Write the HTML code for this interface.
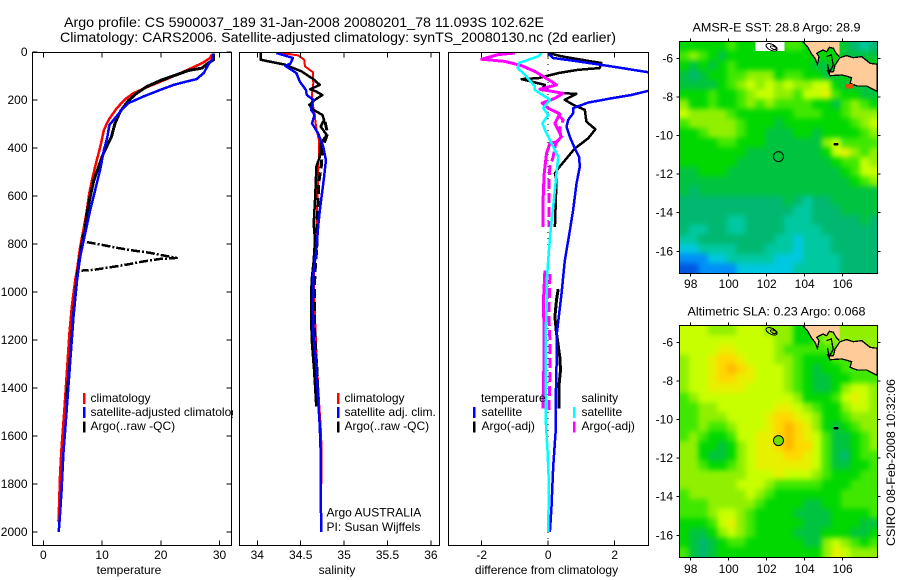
<!DOCTYPE html>
<html>
<head>
<meta charset="utf-8">
<title>Argo profile</title>
<style>
html,body{margin:0;padding:0;background:#fff;}
svg{display:block;}
text{font-family:"Liberation Sans",sans-serif;font-size:12px;fill:#000;}
.title{font-size:14px;}
</style>
</head>
<body>
<svg id="fig" xmlns="http://www.w3.org/2000/svg" width="900" height="580" viewBox="0 0 900 580">
  <defs>
    <clipPath id="clip1"><rect x="32" y="52" width="200" height="494"/></clipPath>
    <clipPath id="clip2"><rect x="239" y="52" width="201" height="494"/></clipPath>
    <clipPath id="clip3"><rect x="448" y="52" width="201" height="494"/></clipPath>
    <clipPath id="clipM1"><rect x="679.5" y="41.5" width="198" height="232"/></clipPath>
    <clipPath id="clipM2"><rect x="679.5" y="325.5" width="198" height="232"/></clipPath>
    <filter id="soften" filterUnits="userSpaceOnUse" x="650" y="10" width="250" height="570" color-interpolation-filters="sRGB">
      <feGaussianBlur stdDeviation="2.6"/>
    </filter>
  </defs>
  <rect x="0" y="0" width="900" height="580" fill="#fff"/>
  <text class="title" x="64" y="27" textLength="480" lengthAdjust="spacingAndGlyphs">Argo profile: CS 5900037_189 31-Jan-2008 20080201_78 11.093S 102.62E</text>
  <text class="title" x="60" y="42" textLength="556" lengthAdjust="spacingAndGlyphs">Climatology: CARS2006. Satellite-adjusted climatology: synTS_20080130.nc (2d earlier)</text>

  <g id="p1"></g>
  <text x="90.5" y="402">climatology</text>
  <text x="90.5" y="416">satellite-adjusted climatology</text>
  <text x="90.5" y="430">Argo(..raw -QC)</text>
  <rect x="83" y="393" width="2.5" height="11" fill="#f00"/>
  <rect x="83" y="407" width="2.5" height="11" fill="#00f"/>
  <rect x="83" y="421.5" width="2.5" height="11" fill="#000"/>
  <text x="129" y="574" text-anchor="middle">temperature</text>

  <rect x="233" y="52" width="207" height="494" fill="#fff"/>
  <g id="p2"></g>
  <rect x="337" y="393" width="2.5" height="11" fill="#f00"/>
  <rect x="337" y="407" width="2.5" height="11" fill="#00f"/>
  <rect x="337" y="421.5" width="2.5" height="11" fill="#000"/>
  <text x="344.5" y="402">climatology</text>
  <text x="344.5" y="416">satellite adj. clim.</text>
  <text x="344.5" y="430">Argo(..raw -QC)</text>
  <text x="326.5" y="516.5">Argo AUSTRALIA</text>
  <text x="326.5" y="531">PI: Susan Wijffels</text>
  <text x="337" y="574" text-anchor="middle">salinity</text>

  <g id="p3"></g>
  <text x="481" y="402">temperature</text>
  <text x="481.5" y="416">satellite</text>
  <text x="481.5" y="430">Argo(-adj)</text>
  <text x="581.5" y="402">salinity</text>
  <text x="581.5" y="416">satellite</text>
  <text x="581.5" y="430">Argo(-adj)</text>
  <rect x="473" y="407" width="2.5" height="11" fill="#00f"/>
  <rect x="473" y="421.5" width="2.5" height="11" fill="#000"/>
  <rect x="573" y="407" width="2.5" height="11" fill="#0ff"/>
  <rect x="573" y="421.5" width="2.5" height="11" fill="#f0f"/>
  <text x="546.5" y="574" text-anchor="middle">difference from climatology</text>

  <text x="692.5" y="31.5" textLength="168" lengthAdjust="spacingAndGlyphs">AMSR-E SST: 28.8 Argo: 28.9</text>
  <g id="m1"></g>
  <text x="687.5" y="315.5" textLength="178" lengthAdjust="spacingAndGlyphs">Altimetric SLA: 0.23 Argo: 0.068</text>
  <g id="m2"></g>
  <text transform="translate(895,546) rotate(-90)" textLength="167" lengthAdjust="spacingAndGlyphs">CSIRO 08-Feb-2008 10:32:06</text>
</svg>
<script>
// ---- shared tick labels
const depthTicks = [0,200,400,600,800,1000,1200,1400,1600,1800,2000];
const tempTicks = [0,10,20,30];
const salTickValues = [34,34.5,35,35.5,36];
const salTickLabels = ['34','34.5','35','35.5','36'];
const diffTicks = [-2,0,2];
const lonTicks = [98,100,102,104,106];
const latTicks = [-6,-8,-10,-12,-14,-16];

// ---- temperature panel
const climTempDepth = [11,25,43,63,85,113,141,172,197,234,283,325,395,450,520,590,674,744,813,897,953,1061,1172,1339,1506,1644,1756,1936,1957];
const climTempValue = [28.7,28.4,27.3,25.6,23.6,21.0,18.2,15.3,13.9,12.5,11.1,10.3,9.7,9.1,8.4,7.8,7.3,6.8,6.25,5.8,5.4,4.83,4.43,3.98,3.52,3.1,2.84,2.6,2.55];
const satTempDepth = [7,32,53,88,113,123,137,158,186,213,241,276,304,353,409,492,576,660,757,855,981,1103,1256,1394,1547,1672,1825,1922,2000];
const satTempValue = [28.9,28.7,28.1,27.3,26.1,24.4,22.2,19.9,17.0,14.5,13.35,12.2,11.25,10.9,10.3,9.66,8.8,7.95,7.1,6.25,5.57,5.1,4.66,4.26,3.8,3.4,3.1,2.84,2.6];
const argoTempDepth = [7,32,46,67,77,99,116,144,172,202,248,297,353,423,492,534,604,674,744,764,925,1100,1300,1463];
const argoTempValue = [29,29,28.1,27,24.7,22.2,20.2,17.6,15.9,14.5,13.1,12.2,11.6,10.2,9.2,8.6,7.95,7.4,7.1,6.8,5.8,5.1,4.5,3.9];
const argoSpikeDepth = [792,802,816,827,837,848,858,862,873,886,897,908,911];
const argoSpikeValue = [7.4,9.66,12.5,15.3,18.2,20.5,22.7,19.9,17,14.2,11.4,8.5,6.5];

// ---- salinity panel
const climSalDepth = [4,14,32,60,84,130,172,199,262,318,367,437,506,604,730,841,953,1061,1242,1450,1561,1644,1800];
const climSalValue = [34.28,34.47,34.54,34.55,34.64,34.645,34.63,34.63,34.66,34.68,34.71,34.71,34.70,34.695,34.68,34.66,34.65,34.66,34.68,34.71,34.73,34.74,34.74];
const satSalDepth = [4,25,49,57,88,123,158,179,199,241,262,297,339,395,451,520,576,660,730,827,925,1064,1172,1311,1450,1561,1672,2000];
const satSalValue = [34.22,34.41,34.38,34.32,34.45,34.49,34.56,34.57,34.645,34.62,34.66,34.63,34.70,34.76,34.79,34.77,34.75,34.72,34.70,34.68,34.645,34.64,34.645,34.68,34.70,34.72,34.73,34.735];
const argoSalDepth = [4,32,39,53,81,113,137,155,165,179,199,220,241,262,283,311,346,381,437,478,534,618,716,785,869,953,1064,1116,1214,1332,1477];
const argoSalValue = [34.04,34.04,34.13,34.32,34.51,34.645,34.72,34.61,34.68,34.75,34.665,34.6,34.645,34.75,34.77,34.73,34.8,34.73,34.72,34.68,34.675,34.665,34.65,34.665,34.65,34.625,34.62,34.62,34.63,34.655,34.68];
const argoSalDashDepth = [290,340,400,470,540,620,720,800,880,960,1070,1150,1240,1340,1470];
const argoSalDashValue = [34.78,34.81,34.75,34.74,34.71,34.70,34.69,34.69,34.67,34.66,34.66,34.66,34.67,34.69,34.70];

// ---- difference panel
const diffSatTempDepth = [4,25,39,60,84,100,145,162,179,193,211,234,255,283,311,353,395,437,478,548,660,771,869,1008,1103,1186,1311,1492,1589,1728,1894,2000];
const diffSatTempValue = [0,0.15,0.9,1.9,3.0,4,4,3.0,2.5,1.9,1.2,0.75,0.75,0.6,0.55,0.65,0.78,0.93,0.95,0.85,0.75,0.62,0.5,0.4,0.32,0.25,0.25,0.22,0.22,0.15,0.1,0.05];
const diffArgoTempDepth = [4,18,39,46,67,74,88,109,113,137,158,172,174,199,220,241,290,322,360,402,485,506,534,730];
const diffArgoTempValue = [0,0.4,1.3,1.6,1.55,0.9,0.3,-0.3,-0.8,-0.1,-0.2,0.5,0.85,0.5,0.75,1.1,1.15,1.42,1.2,0.8,0.3,0.2,0.25,0.2];
const diffArgoTempDeepDepth = [988,1033,1103,1172,1270,1325,1381,1485];
const diffArgoTempDeepValue = [0.3,0.25,0.2,0.25,0.35,0.37,0.33,0.33];
const diffSatSalDepth = [4,18,46,67,95,144,158,199,234,262,297,325,381,437,506,604,730,827,967,1078,1172,1311,1547,1658,1797,2000];
const diffSatSalValue = [-0.2,-0.3,-0.88,-0.92,-0.7,-0.4,-0.4,0.05,-0.15,0,-0.17,-0.1,0.1,0.3,0.25,0.18,0.08,0.02,-0.05,-0.05,-0.08,-0.08,-0.07,-0.02,0.02,0];
const diffArgoSalDepth = [4,11,30,39,57,81,123,137,155,172,193,213,234,258,297,353,374,381,423,506,604,730];
const diffArgoSalValue = [-1.0,-1.5,-2.0,-1.3,-0.8,-0.4,0.1,0.25,-0.25,0.45,0.2,-0.18,0,0.35,0.2,0.4,0.25,0.05,-0.05,-0.12,-0.15,-0.15];
const diffArgoSalDeepDepth = [911,1033,1242,1381,1485];
const diffArgoSalDeepValue = [-0.1,-0.14,-0.12,-0.14,-0.16];
const diffArgoSalDashDepth = [262,283,318,360,374,395,437,478,548,618,730];
const diffArgoSalDashValue = [0.3,0.45,0.35,0.38,0.25,0.2,0.15,0.05,0.02,0.02,0.02];
const diffArgoSalDashDeepDepth = [925,1103,1200,1311,1492];
const diffArgoSalDashDeepValue = [0.05,0.02,0.05,0.06,0.02];

// ---- map grids: colour level per half-degree cell, null = no data
const sstLevels = [
[6,6,6,6,6,7,6,6,null,null,null,7,7,6,6,6,6,5,4,3,4],
[7,8,7,6,5,6,6,6,6,6,6,6,6,6,6,6,6,5,5,5,5],
[6,5,6,5,6,7,6,6,6,6,6,6,6,6,5,5,6,6,6,6,6],
[5,4,5,6,6,7,7,8,8,8,6,7,7,6,6,5,5,6,6,6,6],
[5,5,5,5,6,7,8,9,8,9,8,9,8,8,9,9,6,5,5,5,5],
[6,6,6,7,6,6,7,8,9,9,8,8,7,9,9,10,7,6,6,5,5],
[8,6,6,7,6,6,7,8,7,8,7,7,7,7,6,6,5,7,8,7,6],
[9,8,8,8,8,7,6,6,6,6,6,6,7,7,7,6,6,7,8,8,8],
[7,8,8,8,8,8,7,6,6,6,5,6,6,6,6,6,6,6,7,8,9],
[6,6,7,8,8,8,7,6,6,5,5,5,6,6,5,6,6,6,6,7,8],
[6,6,6,6,7,7,6,6,6,5,5,5,5,5,5,8,9,7,7,7,7],
[6,6,6,6,6,6,6,5,5,5,5,5,5,5,5,6,9,10,8,7,8],
[6,6,6,6,6,6,5,5,5,5,5,5,5,5,5,5,6,7,7,9,8],
[5,5,6,6,6,5,5,5,5,5,5,5,5,5,5,5,5,6,7,9,9],
[5,5,5,5,5,5,5,5,5,5,5,5,5,5,5,5,5,5,6,7,8],
[5,4,5,5,5,5,5,5,5,5,5,5,5,5,5,5,5,5,5,5,5],
[4,4,4,4,4,4,4,4,4,4,4,5,4,3,4,4,5,5,5,5,5],
[4,4,4,4,4,4,4,4,4,4,4,4,3,3,4,4,4,5,5,5,5],
[4,4,4,4,4,3,3,4,4,4,4,3,3,3,4,4,4,4,4,5,4],
[4,3,3,4,4,3,3,4,4,4,4,3,3,3,3,4,4,4,4,4,4],
[3,3,4,4,4,4,4,4,4,4,3,3,2,3,3,3,4,4,4,4,4],
[2,2,3,3,3,3,4,4,4,3,3,3,2,3,3,3,4,4,4,4,4],
[1,1,1,2,2,3,3,3,3,3,2,2,2,3,3,3,3,4,4,4,4],
[0,0,1,1,1,1,2,2,2,2,2,2,3,3,3,3,3,4,4,4,4]
];
const slaLevels = [
[9,9,9,8,8,8,9,9,9,8,8,8,6,6,7,8,8,8,8,8,8],
[9,9,9,9,9,9,9,9,9,9,8,8,6,6,7,8,8,8,8,8,8],
[9,9,9,9,10,10,9,9,9,9,8,7,7,7,7,7,7,8,8,8,8],
[8,9,9,10,11,11,10,9,9,9,8,8,7,6,6,6,7,7,7,7,7],
[8,9,9,10,11,12,11,10,9,9,9,8,7,6,5,6,6,7,7,7,7],
[8,9,9,10,11,11,10,10,9,9,9,8,7,6,5,5,6,6,7,7,7],
[8,9,9,10,10,10,10,9,9,9,9,8,7,6,5,5,6,8,9,9,8],
[7,8,9,9,9,9,9,9,9,9,9,9,8,6,6,6,7,9,10,9,8],
[7,7,8,8,9,9,9,9,9,9,10,10,9,8,7,6,6,8,9,9,8],
[7,7,8,8,8,9,9,9,9,10,11,11,10,9,8,6,6,7,8,8,8],
[7,7,8,7,7,8,9,9,9,10,11,12,11,10,8,6,5,6,7,8,8],
[7,8,7,6,6,7,9,9,10,10,11,12,11,10,9,7,5,5,6,7,8],
[8,8,6,6,5,6,8,9,10,10,11,12,11,11,9,7,5,5,6,7,8],
[8,8,6,5,5,6,8,9,10,10,10,11,11,10,9,7,5,4,6,7,7],
[8,8,7,6,6,7,8,9,10,10,10,10,10,10,9,7,5,5,6,6,7],
[8,8,8,8,8,8,8,9,9,9,10,9,9,9,8,7,6,6,6,7,7],
[8,8,8,8,8,8,9,9,9,8,7,7,7,7,7,6,6,6,7,7,7],
[7,8,8,8,8,8,8,9,8,7,6,6,6,6,6,6,6,7,7,7,7],
[7,7,7,8,8,8,8,8,7,6,6,6,6,5,5,6,6,7,7,7,7],
[7,7,7,8,9,9,8,7,6,6,6,6,5,5,5,5,6,6,6,6,7],
[6,6,6,7,9,10,8,7,6,6,6,6,6,5,5,5,6,6,6,5,5],
[6,5,5,6,8,9,8,7,6,6,6,6,5,5,5,6,6,6,5,5,6],
[6,5,4,5,6,7,7,6,6,6,6,6,6,5,5,8,9,8,7,6,7],
[7,5,4,5,6,6,6,6,6,6,6,6,6,6,6,8,10,9,8,8,8]
];
const levelColors = ['#0058e0','#0090f8','#00c8e0','#00c8a0','#00b870','#00c440','#00d800','#40e800','#90f000','#c8ff00','#e8f000','#ffd800','#ffb800'];

// ---- coastline (lon, lat)
const sumatraLon = [103.89,104.14,104.37,104.54,104.67,104.75,104.63,104.95,105.16,105.30,105.51,105.65,105.82,105.82];
const sumatraLat = [-5.12,-5.40,-5.79,-6.0,-6.31,-5.91,-5.74,-5.57,-5.66,-5.43,-5.48,-5.74,-5.91,-5.12];
const javaLon = [107.82,107.44,107.0,106.56,106.21,105.86,105.6,105.51,105.3,105.19,105.33,105.95,106.47,106.39,106.74,107.26,107.82];
const javaLat = [-6.31,-6.26,-5.91,-5.97,-5.86,-5.97,-6.34,-6.69,-6.72,-6.6,-6.9,-6.86,-7.0,-7.29,-7.43,-7.43,-7.72];
const straitIslandLon = [105.16,105.4,105.5,105.3,105.2];
const straitIslandLat = [-5.91,-5.83,-6.34,-6.76,-6.3];
const floatLon = 102.62;
const floatLat = -11.093;
const sstAtFloatColor = 'none';
const slaAtFloatColor = '#70e000';

const SVGNS = 'http://www.w3.org/2000/svg';
function mk(tag, parent, attrs) {
  const el = document.createElementNS(SVGNS, tag);
  for (const k in attrs) el.setAttribute(k, attrs[k]);
  parent.appendChild(el);
  return el;
}
const yDepth = d => 52 + d * 0.24;
const xTemp = t => 43.4 + 5.87 * t;
const xSal = s => 257.3 + 86.8 * (s - 34);
const xDiff = v => 548.2 + 33.25 * v;
const xLon = lon => 690.7 + 19 * (lon - 98);
const yLat1 = lat => 58.3 + 19.3 * (-6 - lat);
const yLat2 = lat => 342.3 + 19.3 * (-6 - lat);

function drawLine(parent, xs, ys, fx, fy, color, width, dash, name) {
  const el = mk('polyline', parent, {
    points: xs.map((v, i) => fx(v).toFixed(1) + ',' + fy(ys[i]).toFixed(1)).join(' '),
    fill: 'none', stroke: color, 'stroke-width': width, 'stroke-linejoin': 'round'
  });
  if (dash) el.setAttribute('stroke-dasharray', dash);
  
  
  return el;
}
function label(parent, x, y, str, anchor, name) {
  const el = mk('text', parent, {x: x, y: y, 'text-anchor': anchor});
  el.textContent = str;
  
  
  return el;
}
function tick(parent, x1, y1, x2, y2, name) {
  const el = mk('line', parent, {x1: x1, y1: y1, x2: x2, y2: y2, stroke: '#000', 'stroke-width': 1, 'shape-rendering': 'crispEdges'});
  
  
}
function frame(parent, x, y, w, h, name) {
  const el = mk('rect', parent, {x: x, y: y, width: w, height: h, fill: 'none', stroke: '#000', 'stroke-width': 1, 'shape-rendering': 'crispEdges'});
  
  
}

// temperature panel
const p1 = document.getElementById('p1');
const g1 = mk('g', p1, {'clip-path': 'url(#clip1)', 'shape-rendering': 'crispEdges'});
drawLine(g1, climTempValue, climTempDepth, xTemp, yDepth, '#f00', 2.5, null, 'climatology-temperature-line');
drawLine(g1, argoTempValue, argoTempDepth, xTemp, yDepth, '#000', 3, null, 'argo-temperature-line');
drawLine(g1, argoSpikeValue, argoSpikeDepth, xTemp, yDepth, '#000', 2.5, '9 2 2 2', 'argo-temperature-spike');
drawLine(g1, satTempValue, satTempDepth, xTemp, yDepth, '#00f', 2.5, null, 'satellite-temperature-line');
frame(p1, 32.5, 52.5, 199, 493, 'temperature-plot-frame');
depthTicks.forEach(d => {
  tick(p1, 32.5, yDepth(d), 37.5, yDepth(d), 'depth-tick-left');
  tick(p1, 226.5, yDepth(d), 231.5, yDepth(d), 'depth-tick-right');
  label(p1, 27.5, yDepth(d) + 4, String(d), 'end', 'depth-tick-label');
});
tempTicks.forEach(t => {
  tick(p1, xTemp(t), 52.5, xTemp(t), 57.5, 'temperature-tick-top');
  tick(p1, xTemp(t), 540.5, xTemp(t), 545.5, 'temperature-tick-bottom');
  label(p1, xTemp(t), 559, String(t), 'middle', 'temperature-tick-label');
});

// salinity panel
const p2 = document.getElementById('p2');
const g2 = mk('g', p2, {'clip-path': 'url(#clip2)', 'shape-rendering': 'crispEdges'});
drawLine(g2, climSalValue, climSalDepth, xSal, yDepth, '#f00', 2, null, 'climatology-salinity-line');
drawLine(g2, argoSalValue, argoSalDepth, xSal, yDepth, '#000', 2.5, null, 'argo-salinity-line');
drawLine(g2, argoSalDashValue, argoSalDashDepth, xSal, yDepth, '#000', 3, '9 4', 'argo-salinity-raw-line');
drawLine(g2, satSalValue, satSalDepth, xSal, yDepth, '#00f', 2.5, null, 'satellite-salinity-line');
frame(p2, 239.5, 52.5, 200, 493, 'salinity-plot-frame');
salTickValues.forEach((s, i) => {
  tick(p2, xSal(s), 52.5, xSal(s), 57.5, 'salinity-tick-top');
  tick(p2, xSal(s), 540.5, xSal(s), 545.5, 'salinity-tick-bottom');
  label(p2, xSal(s), 559, salTickLabels[i], 'middle', 'salinity-tick-label');
});

// difference panel
const p3 = document.getElementById('p3');
const g3 = mk('g', p3, {'clip-path': 'url(#clip3)', 'shape-rendering': 'crispEdges'});
const zero = mk('line', g3, {x1: xDiff(0), y1: 52, x2: xDiff(0), y2: 546, stroke: '#000', 'stroke-width': 1, 'stroke-dasharray': '1 5'});


drawLine(g3, diffArgoTempValue, diffArgoTempDepth, xDiff, yDepth, '#000', 2.5, null, 'argo-temperature-difference-line');
drawLine(g3, diffArgoTempDeepValue, diffArgoTempDeepDepth, xDiff, yDepth, '#000', 3, null, 'argo-temperature-difference-deep-line');
drawLine(g3, diffSatTempValue, diffSatTempDepth, xDiff, yDepth, '#00f', 2.5, null, 'satellite-temperature-difference-line');
drawLine(g3, diffArgoSalValue, diffArgoSalDepth, xDiff, yDepth, '#f0f', 3, null, 'argo-salinity-difference-line');
drawLine(g3, diffArgoSalDeepValue, diffArgoSalDeepDepth, xDiff, yDepth, '#f0f', 3, null, 'argo-salinity-difference-deep-line');
drawLine(g3, diffArgoSalDashValue, diffArgoSalDashDepth, xDiff, yDepth, '#f0f', 3, '10 4', 'argo-salinity-raw-difference-line');
drawLine(g3, diffArgoSalDashDeepValue, diffArgoSalDashDeepDepth, xDiff, yDepth, '#f0f', 3, '10 4', 'argo-salinity-raw-difference-deep-line');
drawLine(g3, diffSatSalValue, diffSatSalDepth, xDiff, yDepth, '#0ff', 2.5, null, 'satellite-salinity-difference-line');
frame(p3, 448.5, 52.5, 200, 493, 'difference-plot-frame');
diffTicks.forEach(v => {
  tick(p3, xDiff(v), 52.5, xDiff(v), 57.5, 'difference-tick-top');
  tick(p3, xDiff(v), 540.5, xDiff(v), 545.5, 'difference-tick-bottom');
  label(p3, xDiff(v), 559, String(v), 'middle', 'difference-tick-label');
});

// maps
function drawMap(host, levels, yLat, clipId, top, bottom, markerFill, prefix, labelBase) {
  const clipped = mk('g', host, {'clip-path': 'url(#' + clipId + ')'});
  const cells = mk('g', clipped, {filter: 'url(#soften)'});
  const nRows = levels.length;
  levels.forEach((row, j) => {
    row.forEach((lvl, i) => {
      const lon = 97.4 + 0.5 * i;
      const lat = -5.12 - 0.5 * j;
      // outer cells bleed past the frame so the softening keeps full colour at the edge
      const padL = i === 0 ? 14 : 0;
      const padR = i === row.length - 1 ? 14 : 0;
      const padT = j === 0 ? 14 : 0;
      const padB = j === nRows - 1 ? 14 : 0;
      const c = mk('rect', cells, {
        x: xLon(lon) - padL, y: yLat(lat) - padT,
        width: xLon(lon + 0.5) - xLon(lon) + 0.5 + padL + padR,
        height: yLat(lat - 0.5) - yLat(lat) + 0.5 + padT + padB,
        fill: lvl === null ? levelColors[6] : levelColors[lvl]
      });
      
      
    });
  });
  levels.forEach((row, j) => {
    row.forEach((lvl, i) => {
      if (lvl !== null) return;
      const lon = 97.4 + 0.5 * i;
      const lat = -5.12 - 0.5 * j;
      const gap = mk('rect', clipped, {
        x: xLon(lon), y: yLat(lat) - 1,
        width: xLon(lon + 0.5) - xLon(lon) + 0.5,
        height: yLat(lat - 0.5) - yLat(lat) + 1,
        fill: '#fff', 'shape-rendering': 'crispEdges'
      });
      
      
    });
  });
  const land = mk('g', host, {'clip-path': 'url(#' + clipId + ')', 'shape-rendering': 'crispEdges'});
  const toPts = (lons, lats) => lons.map((v, i) => xLon(v).toFixed(1) + ',' + yLat(lats[i]).toFixed(1)).join(' ');
  const sumatra = mk('polygon', land, {points: toPts(sumatraLon, sumatraLat), fill: '#ffcc99', stroke: 'none'});
  
  
  const sumatraCoast = mk('polyline', land, {points: toPts(sumatraLon.slice(0, 13), sumatraLat.slice(0, 13)), fill: 'none', stroke: '#000', 'stroke-width': 1.3});
  
  
  const java = mk('polygon', land, {points: toPts(javaLon, javaLat), fill: '#ffcc99', stroke: '#000', 'stroke-width': 1.3});
  
  
  const strait = mk('polyline', land, {points: toPts(straitIslandLon, straitIslandLat), fill: 'none', stroke: '#000', 'stroke-width': 1.3});
  
  
  const isle = mk('ellipse', land, {cx: xLon(102.26), cy: yLat(-5.43), rx: 6, ry: 3, fill: 'none', stroke: '#000', 'stroke-width': 1, transform: 'rotate(25 ' + xLon(102.26) + ' ' + yLat(-5.43) + ')'});
  
  
  const isleIn = mk('ellipse', land, {cx: xLon(102.35), cy: yLat(-5.45), rx: 3, ry: 1.5, fill: 'none', stroke: '#000', 'stroke-width': 1, transform: 'rotate(25 ' + xLon(102.35) + ' ' + yLat(-5.45) + ')'});
  
  
  const christmas = mk('ellipse', land, {cx: xLon(105.65), cy: yLat(-10.45), rx: 2.5, ry: 1.4, fill: '#000'});
  
  
  const marker = mk('circle', host, {cx: xLon(floatLon), cy: yLat(floatLat), r: 5, fill: markerFill, stroke: '#000', 'stroke-width': 1});
  
  
  frame(host, 679.5, top, 198, bottom - top, prefix + '-frame');
  lonTicks.forEach(lon => {
    tick(host, xLon(lon), top - 3, xLon(lon), top, prefix + '-lon-tick-top');
    tick(host, xLon(lon), bottom, xLon(lon), bottom + 3, prefix + '-lon-tick-bottom');
    label(host, xLon(lon), labelBase, String(lon), 'middle', prefix + '-lon-label');
  });
  latTicks.forEach(lat => {
    tick(host, 676.5, yLat(lat), 679.5, yLat(lat), prefix + '-lat-tick-left');
    tick(host, 877.5, yLat(lat), 880.5, yLat(lat), prefix + '-lat-tick-right');
    label(host, 673, yLat(lat) + 4, String(lat), 'end', prefix + '-lat-label');
  });
}
drawMap(document.getElementById('m1'), sstLevels, yLat1, 'clipM1', 41.5, 273.5, sstAtFloatColor, 'sst-map', 288);
drawMap(document.getElementById('m2'), slaLevels, yLat2, 'clipM2', 325.5, 557.5, slaAtFloatColor, 'sla-map', 573);

// coastal warm patch on the SST map
const warm = mk('rect', document.getElementById('m1'), {x: xLon(106.15), y: yLat1(-7.32), width: 8, height: 4.5, fill: '#d85000', 'shape-rendering': 'crispEdges'});


</script>
</body>
</html>
